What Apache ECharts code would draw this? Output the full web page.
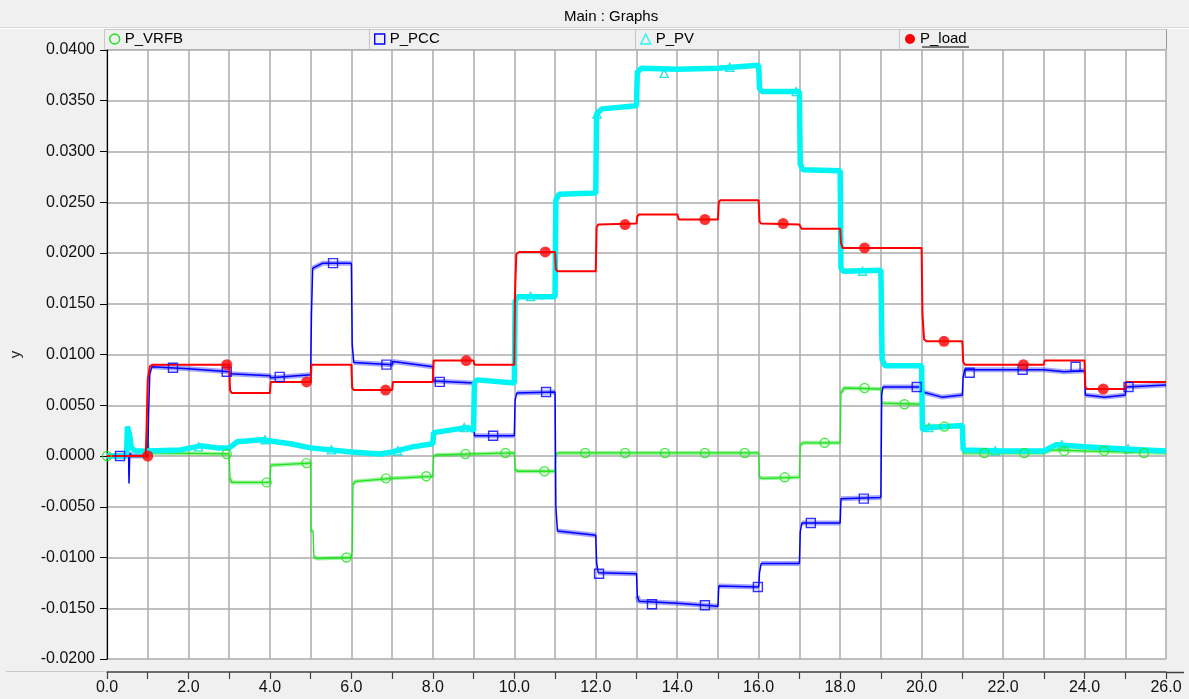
<!DOCTYPE html>
<html>
<head>
<meta charset="utf-8">
<script src="https://cdn.jsdelivr.net/npm/echarts@6/dist/echarts.min.js"></script>
<style>
html,body{margin:0;padding:0;background:#f0f0f0;}
#chart{width:1189px;height:699px;}
</style>
</head>
<body>
<div id="chart"></div>
<script>
// ---- data (time in x units, power in y units) ----
const seriesNames = ['P_VRFB', 'P_PCC', 'P_PV', 'P_load'];

const vrfbLine = [[0,0],[0.98,0],[1.0,0.0028],[1.03,0.0005],[1.1,0.0003],[3.0,0.0002],[3.02,-0.0022],[3.06,-0.0026],[4.0,-0.0026],[4.02,-0.0009],[5.0,-0.0007],[5.01,-0.0073],[5.06,-0.0075],[5.08,-0.0099],[5.15,-0.0101],[6.0,-0.0100],[6.02,-0.0093],[6.04,-0.0028],[6.1,-0.0025],[7.0,-0.0022],[8.0,-0.0020],[8.02,0.0000],[8.1,0.0001],[9.0,0.0002],[10.0,0.0003],[10.02,-0.0013],[10.08,-0.0015],[11.0,-0.0015],[11.02,0.0002],[11.1,0.0003],[16.0,0.0003],[16.02,-0.0021],[16.1,-0.0022],[17.0,-0.0021],[17.02,0.0011],[17.1,0.0013],[18.0,0.0013],[18.02,0.0062],[18.1,0.0067],[19.0,0.0066],[19.02,0.0052],[20.0,0.0051],[20.02,0.0030],[21.0,0.0029],[21.02,0.0003],[23.0,0.0003],[23.2,0.0006],[24.0,0.0005],[26,0.0003]];

const pccLine = [[0,0],[0.5,0],[0.52,0.0027],[0.54,-0.0027],[0.56,0.0003],[0.6,0],[1.0,0],[1.02,0.0040],[1.05,0.0080],[1.1,0.0088],[2.0,0.0086],[3.0,0.0083],[3.02,0.0081],[4.0,0.0079],[4.02,0.0077],[5.0,0.0080],[5.02,0.0140],[5.05,0.0185],[5.3,0.0190],[6.0,0.0190],[6.02,0.0110],[6.06,0.0092],[7.0,0.0090],[7.02,0.0093],[8.0,0.0088],[8.02,0.0074],[9.0,0.0072],[9.02,0.0020],[10.0,0.0020],[10.02,0.0055],[10.06,0.0062],[11.0,0.0063],[11.02,-0.0050],[11.06,-0.0074],[12.0,-0.0078],[12.02,-0.0105],[12.06,-0.0115],[13.0,-0.0116],[13.02,-0.0138],[13.06,-0.0143],[14.0,-0.0145],[15.0,-0.0148],[15.02,-0.0128],[16.0,-0.0129],[16.02,-0.0115],[16.06,-0.0106],[17.0,-0.0106],[17.02,-0.0075],[17.06,-0.0066],[18.0,-0.0066],[18.02,-0.0042],[19.0,-0.0041],[19.02,0.0060],[19.05,0.0068],[20.0,0.0068],[20.03,0.0063],[20.5,0.0058],[21.0,0.0060],[21.02,0.0078],[21.06,0.0085],[23.0,0.0085],[23.5,0.0083],[24.0,0.0084],[24.02,0.0060],[24.5,0.0058],[25.0,0.0060],[25.02,0.0068],[26,0.0070]];

const pvLine = [[0,0],[0.48,0],[0.5,0.0029],[0.55,0.0022],[0.6,0.0008],[0.7,0.0005],[1.0,0.0005],[1.8,0.0006],[2.3,0.0010],[2.7,0.0008],[3.0,0.0008],[3.2,0.0014],[3.8,0.0016],[4.5,0.0012],[5.0,0.0008],[6.0,0.0004],[6.7,0.0002],[7.0,0.0004],[7.5,0.0009],[8.0,0.0012],[8.02,0.0023],[8.5,0.0026],[8.85,0.0028],[9.0,0.0025],[9.02,0.0072],[9.08,0.0075],[10.0,0.0072],[10.02,0.0152],[10.08,0.0157],[11.0,0.0157],[11.02,0.0252],[11.1,0.0258],[12.0,0.0259],[12.02,0.0337],[12.15,0.0342],[13.0,0.0345],[13.02,0.0378],[13.12,0.0382],[14.0,0.0381],[15.0,0.0382],[16.0,0.0385],[16.02,0.0362],[16.08,0.0359],[17.0,0.0359],[17.02,0.0288],[17.08,0.0282],[18.0,0.0281],[18.02,0.0185],[18.08,0.0182],[19.0,0.0183],[19.03,0.0095],[19.1,0.0089],[20.0,0.0089],[20.02,0.0026],[20.2,0.0028],[21.0,0.0030],[21.02,0.0006],[22.0,0.0005],[23.0,0.0005],[23.3,0.0011],[24.0,0.0009],[25.0,0.0007],[26,0.0005]];

const loadLine = [[0,0],[0.95,0],[0.97,0.0025],[1.0,0.0075],[1.05,0.0088],[1.12,0.0090],[3.0,0.0090],[3.02,0.0065],[3.06,0.0062],[4.0,0.0062],[4.02,0.0073],[5.0,0.0073],[5.02,0.0090],[6.0,0.0090],[6.02,0.0067],[6.06,0.0065],[7.0,0.0065],[7.02,0.0073],[8.0,0.0073],[8.02,0.0094],[9.0,0.0094],[9.02,0.0090],[10.0,0.0090],[10.02,0.0165],[10.05,0.0199],[10.12,0.0201],[11.0,0.0201],[11.02,0.0184],[11.06,0.0182],[12.0,0.0182],[12.02,0.0225],[12.06,0.0228],[13.0,0.0229],[13.02,0.0236],[13.06,0.0238],[14.0,0.0238],[14.04,0.0233],[15.0,0.0233],[15.02,0.0250],[15.06,0.0252],[16.0,0.0252],[16.02,0.0231],[16.06,0.0229],[17.0,0.0228],[17.05,0.0224],[18.0,0.0224],[18.02,0.0210],[18.06,0.0205],[20.0,0.0205],[20.02,0.0140],[20.06,0.0115],[20.12,0.0113],[21.0,0.0113],[21.02,0.0093],[21.06,0.0090],[23.0,0.0090],[23.02,0.0094],[24.0,0.0094],[24.02,0.0068],[24.06,0.0066],[25.0,0.0066],[25.02,0.0073],[26,0.0073]];

const vrfbMarks = [[0,0],[2.94,0.0002],[3.92,-0.0026],[4.9,-0.0007],[5.88,-0.0100],[6.85,-0.0022],[7.84,-0.0020],[8.8,0.0002],[9.78,0.0003],[10.74,-0.0015],[11.74,0.0003],[12.72,0.0003],[13.7,0.0003],[14.68,0.0003],[15.66,0.0003],[16.64,-0.0021],[17.62,0.0013],[18.6,0.0067],[19.58,0.0051],[20.56,0.0029],[21.54,0.0003],[22.52,0.0003],[23.5,0.0005],[24.48,0.0005],[25.46,0.0003]];

const pccMarks = [[0.32,0],[1.62,0.0087],[2.94,0.0083],[4.24,0.0078],[5.55,0.0190],[6.86,0.0090],[8.17,0.0073],[9.48,0.0020],[10.78,0.0063],[12.08,-0.0116],[13.38,-0.0146],[14.68,-0.0147],[15.98,-0.0129],[17.28,-0.0066],[18.58,-0.0042],[19.88,0.0068],[21.18,0.0082],[22.48,0.0085],[23.78,0.0088],[25.08,0.0068]];

const pvMarks = [[2.25,0.0009],[3.88,0.0016],[5.51,0.0006],[7.14,0.0005],[8.77,0.0028],[10.4,0.0157],[12.03,0.0337],[13.68,0.0377],[15.29,0.0383],[16.92,0.0359],[18.55,0.0182],[20.18,0.0028],[21.81,0.0005],[23.44,0.0011],[25.07,0.0007]];

const loadMarks = [[1.0,0],[2.94,0.0090],[4.9,0.0073],[6.84,0.0065],[8.82,0.0094],[10.76,0.0201],[12.72,0.0228],[14.68,0.0233],[16.6,0.0229],[18.6,0.0205],[20.55,0.0113],[22.5,0.0090],[24.46,0.0066]];

const xMin = 0, xMax = 26, xStep = 1;
const yMin = -0.02, yMax = 0.04, yStep = 0.005;

// ---- helpers ----
// break a copy of the line at steep step transitions so a wide "noise band" is drawn on flat parts only
function bandOf(pts) {
  const out = [];
  for (let i = 0; i < pts.length; i++) {
    out.push(pts[i]);
    if (i < pts.length - 1) {
      const dt = pts[i + 1][0] - pts[i][0];
      const dv = Math.abs(pts[i + 1][1] - pts[i][1]);
      if (dt < 0.15 && dv > 0.0006) out.push([pts[i][0] + dt / 2, '-']);
    }
  }
  return out;
}

const FONT = '"Liberation Sans", Arial, sans-serif';
const C_VRFB = '#22e322', C_PCC = '#0000ff', C_PV = '#00f4f4', C_LOAD = '#ff0000';

function lineSeries(name, data, color, width, z) {
  return { name, type: 'line', data, symbol: 'none', silent: true, z: z || 2,
    lineStyle: { color, width }, itemStyle: { color }, animation: false };
}
function markSeries(name, data, symbol, size, color, filled, z) {
  return { name, type: 'scatter', data, symbol, symbolSize: size, silent: true, z: z || 3,
    itemStyle: filled ? { color } : { color: 'rgba(0,0,0,0)', borderColor: color, borderWidth: 1.4 },
    animation: false };
}

const chart = echarts.init(document.getElementById('chart'), null, { renderer: 'canvas' });

const legendCells = [
  { left: 109, name: 'P_VRFB', icon: 'circle', style: { color: 'rgba(0,0,0,0)', borderColor: C_VRFB, borderWidth: 1.4 } },
  { left: 374, name: 'P_PCC', icon: 'rect', style: { color: 'rgba(0,0,0,0)', borderColor: C_PCC, borderWidth: 1.4 } },
  { left: 640, name: 'P_PV', icon: 'triangle', style: { color: 'rgba(0,0,0,0)', borderColor: C_PV, borderWidth: 1.4 } },
  { left: 905, name: 'P_load', icon: 'circle', style: { color: C_LOAD } }
];

const option = {
  backgroundColor: '#f0f0f0',
  animation: false,
  textStyle: { fontFamily: FONT },
  title: {
    text: 'Main : Graphs', left: 559, top: 4,
    textStyle: { fontSize: 15, fontWeight: 'normal', color: '#000', fontFamily: FONT }
  },
  graphic: [
    { type: 'line', shape: { x1: 0, y1: 27.5, x2: 1189, y2: 27.5 }, style: { stroke: '#d6d6d6', lineWidth: 1 }, z: -1 },
    { type: 'line', shape: { x1: 0, y1: 28.5, x2: 1189, y2: 28.5 }, style: { stroke: '#ffffff', lineWidth: 1 }, z: -1 },
    { type: 'rect', shape: { x: 104.5, y: 29.5, width: 1062, height: 20 }, style: { fill: '#f0f0f0', stroke: '#c8c8c8', lineWidth: 1 }, z: -1 },
    { type: 'line', shape: { x1: 369.5, y1: 29.5, x2: 369.5, y2: 49.5 }, style: { stroke: '#c4c4c4', lineWidth: 1 }, z: -1 },
    { type: 'line', shape: { x1: 635.5, y1: 29.5, x2: 635.5, y2: 49.5 }, style: { stroke: '#c4c4c4', lineWidth: 1 }, z: -1 },
    { type: 'line', shape: { x1: 899.5, y1: 29.5, x2: 899.5, y2: 49.5 }, style: { stroke: '#c4c4c4', lineWidth: 1 }, z: -1 },
    { type: 'line', shape: { x1: 1166.5, y1: 29.5, x2: 1166.5, y2: 49.5 }, style: { stroke: '#9a9a9a', lineWidth: 1 }, z: -1 },
    { type: 'line', shape: { x1: 922, y1: 47, x2: 969, y2: 47 }, style: { stroke: '#000', lineWidth: 1 }, z: 10 },
    { type: 'line', shape: { x1: 6, y1: 671.5, x2: 105, y2: 671.5 }, style: { stroke: '#c8c8c8', lineWidth: 1 }, z: -1 },
    { type: 'line', shape: { x1: 1166, y1: 672.5, x2: 1184, y2: 672.5 }, style: { stroke: '#404040', lineWidth: 1.5 }, z: 5 }
  ],
  legend: legendCells.map(c => ({
    left: c.left, top: 31, padding: 0, orient: 'horizontal',
    itemWidth: 10, itemHeight: 10, itemGap: 0, selectedMode: false,
    textStyle: { fontSize: 15, color: '#000', fontFamily: FONT, lineHeight: 16, padding: [0, 0, 0, 0] },
    data: [{ name: c.name, icon: c.icon, itemStyle: c.style }]
  })),
  grid: {
    left: 105, right: 23, top: 50, bottom: 40, show: true,
    backgroundColor: '#ffffff', borderWidth: 0, containLabel: false
  },
  xAxis: {
    type: 'value', min: xMin, max: xMax, interval: xStep, offset: 13,
    axisLine: { show: true, onZero: false, lineStyle: { color: '#404040', width: 1.5 } },
    axisTick: { show: true, length: 7, lineStyle: { color: '#404040', width: 1.2 } },
    axisLabel: {
      fontSize: 16, color: '#111', fontFamily: FONT, margin: 8,
      formatter: v => (Math.round(v) % 2 === 0 ? Math.round(v).toFixed(1) : '')
    },
    splitLine: { show: true, lineStyle: { color: '#ababab', width: 1.5 } }
  },
  yAxis: {
    type: 'value', min: yMin, max: yMax, interval: yStep,
    name: 'y', nameLocation: 'middle', nameGap: 84,
    nameTextStyle: { fontSize: 15, color: '#222', fontFamily: FONT },
    axisLine: { show: true, onZero: false, lineStyle: { color: '#000', width: 1.2 } },
    axisTick: { show: true, length: 7, lineStyle: { color: '#000', width: 1 } },
    axisLabel: {
      fontSize: 16, color: '#111', fontFamily: FONT, margin: 12,
      formatter: v => (Math.abs(v) < 1e-9 ? '0.0000' : v.toFixed(4))
    },
    splitLine: { show: true, lineStyle: { color: '#ababab', width: 1.5 } }
  },
  series: [
    lineSeries('P_VRFB', bandOf(vrfbLine), 'rgba(40,225,40,0.45)', 4),
    lineSeries('P_VRFB', vrfbLine, C_VRFB, 1.3),
    markSeries('P_VRFB', vrfbMarks, 'circle', 9, C_VRFB, false),
    lineSeries('P_PCC', bandOf(pccLine), 'rgba(30,30,255,0.4)', 5),
    lineSeries('P_PCC', pccLine, C_PCC, 1.5),
    markSeries('P_PCC', pccMarks, 'rect', 9, C_PCC, false),
    markSeries('P_PV', pvMarks, 'triangle', 8, '#00d8d8', false, 1),
    lineSeries('P_PV', pvLine, C_PV, 5.5),
    lineSeries('P_load', loadLine, C_LOAD, 2),
    markSeries('P_load', loadMarks, 'circle', 11, C_LOAD, true)
  ]
};

chart.setOption(option);
</script>
</body>
</html>
